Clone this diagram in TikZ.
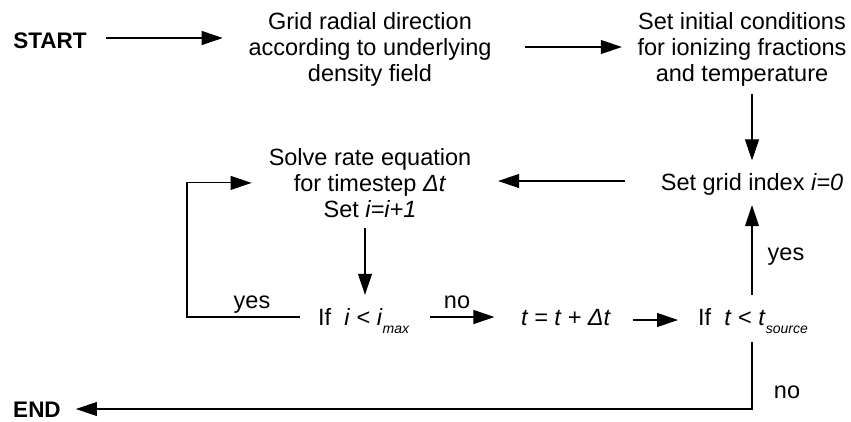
\documentclass[tikz,border=0pt]{standalone}
\usepackage{fontspec}
\setmainfont{Liberation Sans}
\usetikzlibrary{arrows.meta}
\begin{document}
\begin{tikzpicture}[x=1pt,y=-1pt,
  txt/.style={font=\fontsize{23.5}{26}\selectfont, inner sep=0pt, align=center},
  one/.style={txt, text height=16.8pt, text depth=0pt},
  bold/.style={font=\fontsize{22.5}{26}\selectfont\bfseries, inner sep=0pt, text height=16.8pt, text depth=0pt},
  lbl/.style={font=\fontsize{23.5}{26}\selectfont, inner sep=0pt, anchor=base},
  arr/.style={line width=1.1pt, -{Triangle[length=21pt,width=14pt]}},
  ln/.style={line width=1.1pt}]
\useasboundingbox (0,0) rectangle (851,421);
\newcommand{\smallsub}[1]{\raisebox{-8pt}{\fontsize{14}{14}\selectfont\itshape #1}}

\node[bold] (start) at (50,40) {START};
\node[txt] (grid) at (370,49.4) {Grid radial direction\\according to underlying\\density field};
\node[txt] (init) at (742,49.4) {Set initial conditions\\for ionizing fractions\\and temperature};
\node[one] (gi) at (752,182) {Set grid index \textit{i=0}};
\node[txt] (solve) at (370,182.9) {Solve rate equation\\for timestep \textit{Δt}\\Set \textit{i=i+1}};
\node[one, anchor=west] (ifi) at (318,317) {If~ \textit{i} < \textit{i}\smallsub{max}};
\node[one] (tt) at (566,317) {\textit{t = t + Δt}};
\node[one, anchor=west] (tsrc) at (698,317) {If~ \textit{t} < \textit{t}\smallsub{source}};
\node[bold] (endn) at (37,409) {END};

\node[lbl] (yesl) at (252,308) {yes};
\node[lbl] (nol) at (457,308) {no};
\node[lbl] (yesr) at (786,260) {yes};
\node[lbl] (nor) at (787,398) {no};

\draw[arr, shorten <=19.5pt, shorten >=25.6pt] ([yshift=2pt]start.east) -- ([yshift=2pt]start.east -| grid.west);
\draw[arr, shorten <=33.6pt, shorten >=15.5pt] ([yshift=2.4pt]grid.east) -- ([yshift=2.4pt]grid.east -| init.west);
\draw[arr, shorten <=7.6pt, shorten >=13pt] (gi.north |- init.south) -- (gi.north);
\draw[arr, shorten <=35.5pt, shorten >=26.7pt] ([yshift=1pt]gi.west) -- ([yshift=1pt]gi.west -| solve.east);
\draw[arr, shorten <=10.6pt, shorten >=13.6pt] ([xshift=-5pt]solve.south) -- ([xshift=-5pt]solve.south |- ifi.north);
\draw[arr, shorten <=18pt, shorten >=17pt] (ifi.west) -- ++(-131,0) |- (solve.west);
\draw[arr, shorten <=20.5pt, shorten >=26.5pt] (ifi.east) -- (ifi.east -| tt.west);
\draw[arr, shorten <=21.5pt, shorten >=20pt] ([yshift=-3pt]tt.east) -- ([yshift=-3pt]tt.east -| tsrc.west);
\draw[arr, shorten <=13.6pt, shorten >=14.6pt] (gi.south |- tsrc.north) -- (gi.south);
\draw[arr, shorten <=16.4pt, shorten >=15pt] (gi.south |- tsrc.south) -- (gi.south |- endn.east) -- (endn.east);
\end{tikzpicture}
\end{document}
